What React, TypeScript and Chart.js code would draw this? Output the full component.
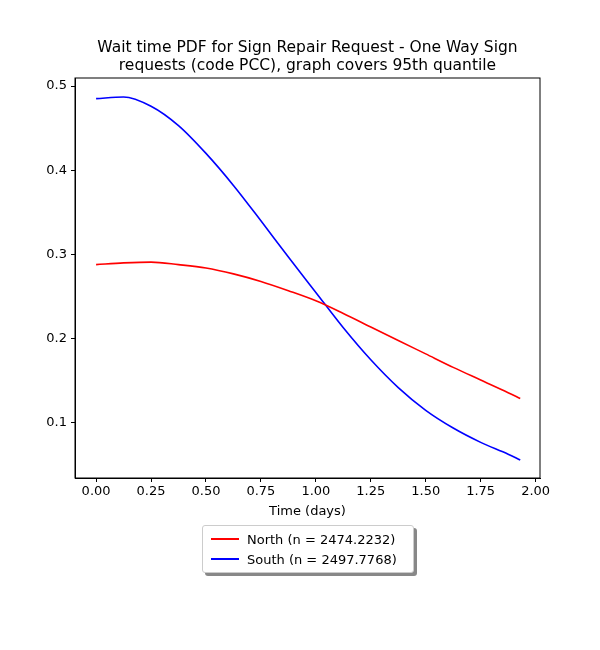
import React, { useEffect, useRef } from 'react';
import Chart from 'chart.js/auto';

// === Data ===
const TIMES = [0, 0.125, 0.25, 0.375, 0.5, 0.625, 0.75, 0.875, 1.0, 1.125, 1.25, 1.375, 1.5, 1.625, 1.75, 1.875, 1.93];
const NORTH = [0.288, 0.290, 0.291, 0.288, 0.284, 0.277, 0.268, 0.257, 0.245, 0.230, 0.214, 0.198, 0.182, 0.166, 0.151, 0.136, 0.129];
const SOUTH = [0.485, 0.487, 0.476, 0.453, 0.420, 0.382, 0.340, 0.297, 0.255, 0.213, 0.175, 0.142, 0.115, 0.094, 0.077, 0.063, 0.056];
const X_TICKS = [0, 0.25, 0.5, 0.75, 1.0, 1.25, 1.5, 1.75, 2.0];
const Y_TICKS = [0.1, 0.2, 0.3, 0.4, 0.5];
const SERIES = [
  { label: 'North (n = 2474.2232)', values: NORTH, color: '#ff0000' },
  { label: 'South (n = 2497.7768)', values: SOUTH, color: '#0000ff' },
];

const FONT = 'DejaVu Sans';

const App: React.FC = () => {
  const canvasRef = useRef<HTMLCanvasElement>(null);

  useEffect(() => {
    document.body.style.margin = '0';
    if (!canvasRef.current) return;
    const chart = new Chart(canvasRef.current, {
      type: 'line',
      data: {
        datasets: SERIES.map(s => ({
          label: s.label,
          data: TIMES.map((t, i) => ({ x: t, y: s.values[i] })),
          borderColor: s.color,
          borderWidth: 1.6,
          pointRadius: 0,
          cubicInterpolationMode: 'monotone' as const,
          fill: false,
        })),
      },
      options: {
        animation: false,
        responsive: false,
        layout: { padding: { left: 0, top: 78, right: 60, bottom: 127 } },
        plugins: { legend: { display: false }, tooltip: { enabled: false } },
        scales: {
          x: {
            type: 'linear',
            min: -0.096,
            max: 2.02,
            afterBuildTicks: (scale: any) => { scale.ticks = X_TICKS.map(v => ({ value: v })); },
            afterFit: (scale: any) => { scale.height = 45; },
            ticks: { color: '#000', font: { family: FONT, size: 13 }, padding: 2, maxRotation: 0,
              callback: (v: any) => Number(v).toFixed(2) },
            grid: { drawOnChartArea: false, tickLength: 4, color: '#000' },
            border: { color: '#000' },
            title: { display: true, text: 'Time (days)', color: '#000', font: { family: FONT, size: 13 }, padding: { top: 2 } },
          },
          y: {
            type: 'linear',
            min: 0.0347,
            max: 0.5095,
            afterBuildTicks: (scale: any) => { scale.ticks = Y_TICKS.map(v => ({ value: v })); },
            afterFit: (scale: any) => { scale.width = 75; },
            ticks: { color: '#000', font: { family: FONT, size: 13 }, padding: 4,
              callback: (v: any) => Number(v).toFixed(1) },
            grid: { drawOnChartArea: false, tickLength: 4, color: '#000' },
            border: { color: '#000' },
          },
        },
      },
      plugins: [{
        id: 'frame',
        afterDraw: (c: any) => {
          const { left, top, right, bottom } = c.chartArea;
          const ctx = c.ctx;
          ctx.save();
          ctx.strokeStyle = '#000';
          ctx.lineWidth = 1;
          ctx.strokeRect(left, top, right - left, bottom - top);
          ctx.restore();
        },
      }],
    });
    return () => chart.destroy();
  }, []);

  return (
    <div style={{ position: 'relative', width: 600, height: 650, background: '#fff', fontFamily: FONT }}>
      <canvas ref={canvasRef} width={600} height={650} />
      <div style={{ position: 'absolute', top: 38, left: 0, width: 615, textAlign: 'center', fontSize: 15.5, lineHeight: '18px', color: '#000' }}>
        Wait time PDF for Sign Repair Request - One Way Sign<br />requests (code PCC), graph covers 95th quantile
      </div>
      <div style={{ position: 'absolute', left: 202, top: 525, width: 210, padding: '3px 0', background: '#fff',
        border: '1px solid #ccc', borderRadius: 3, boxShadow: '3px 3px 0 #888', fontSize: 13 }}>
        {SERIES.map(s => (
          <div key={s.label} style={{ display: 'flex', alignItems: 'center', height: 20 }}>
            <div style={{ width: 28, height: 2, background: s.color, margin: '0 8px 0 8px' }} />
            <span>{s.label}</span>
          </div>
        ))}
      </div>
    </div>
  );
};

export default App;
